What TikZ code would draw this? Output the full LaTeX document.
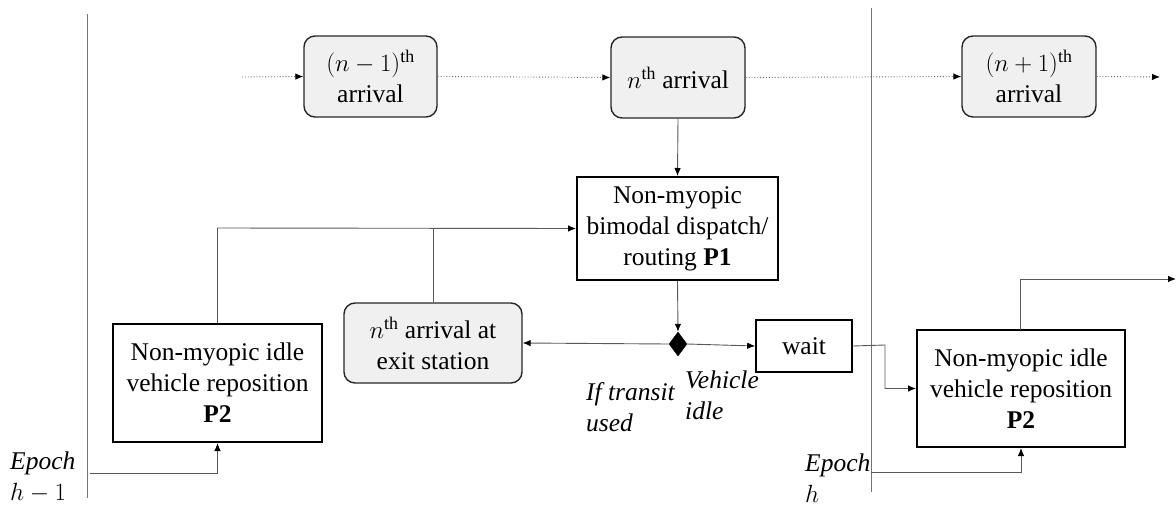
\documentclass[tikz,border=0pt]{standalone}
\usepackage{fontspec}
\setmainfont{Liberation Serif}
\usetikzlibrary{arrows.meta,shapes.geometric}
\begin{document}
\begin{tikzpicture}[x=1pt,y=-1pt,
  every node/.style={font=\fontsize{25.5}{31}\selectfont},
  arrbox/.style={draw=black!85,line width=1.4pt,fill=black!6,rounded corners=11pt,inner sep=0pt,align=center},
  probbox/.style={draw=black,line width=2pt,fill=white,inner sep=0pt,align=center},
  conn/.style={draw=black!65,line width=0.9pt},
  arr/.style={conn,-{Latex[length=8pt,width=6.5pt,color=black]}},
  dotarr/.style={draw=black!60,line width=0.9pt,dotted,-{Latex[length=8pt,width=6.5pt,color=black]}},
  epochline/.style={draw=black!55,line width=0.9pt},
  lbl/.style={font=\fontsize{25.5}{31}\selectfont\itshape,inner sep=0pt,align=left}
]
\useasboundingbox (0,0) rectangle (1176,509);
% epoch lines
\draw[epochline] (87,14) -- (87,498);
\draw[epochline] (871,8) -- (871,492);
% arrival boxes
\node[arrbox,minimum width=133pt,minimum height=81pt] (a1) at (370.5,76.5) {$(n-1)$\textsuperscript{th}\\arrival};
\node[arrbox,minimum width=134pt,minimum height=81pt] (a2) at (678,77.5) {$n$\textsuperscript{th} arrival};
\node[arrbox,minimum width=134pt,minimum height=81pt] (a3) at (1029,76.5) {$(n+1)$\textsuperscript{th}\\arrival};
\coordinate (d0) at (242,77);
\coordinate (d4) at (1160,77);
\draw[dotarr] (d0) -- (a1.west);
\draw[dotarr] (a1.east) -- (a2.west);
\draw[dotarr] (a2.east) -- (a3.west);
\draw[dotarr] (a3.east) -- (d4);
% P1
\node[probbox,minimum width=201pt,minimum height=103pt] (p1) at (677.5,228.5) {Non-myopic\\bimodal dispatch/\\routing \textbf{P1}};
% P2 left and right
\node[probbox,minimum width=209pt,minimum height=118pt] (p2l) at (217.5,383) {Non-myopic idle\\vehicle reposition\\\textbf{P2}};
\node[probbox,minimum width=208pt,minimum height=117pt] (p2r) at (1021,388.5) {Non-myopic idle\\vehicle reposition\\\textbf{P2}};
% exit
\node[arrbox,minimum width=178pt,minimum height=80pt] (ex) at (433,343) {$n$\textsuperscript{th} arrival at\\exit station};
% wait
\node[probbox,line width=1.6pt,minimum width=96pt,minimum height=52pt] (wt) at (804,346) {wait};
% diamond
\node[diamond,fill=black,draw=black,inner sep=0pt,minimum width=18pt,minimum height=24pt] (dm) at (678,344) {};
% connectors
\draw[arr] (a2.south) -- (p1.north);
\draw[arr] (p1.south) -- (dm.north);
\draw[arr] (dm.west) -- (ex.east);
\draw[arr] (dm.east) -- (wt.west);
\draw[arr] (wt.east) -- (885,345) -- (885,388.5) -- (p2r.west);
\draw[arr] (p2l.north) -- (217.5,228) -- (p1.west);
\draw[conn] (ex.north) -- (433,228);
\coordinate (e1) at (90,473);
\coordinate (e2) at (871,472);
\draw[arr] (e1) -- (217.5,473) -- (p2l.south);
\draw[arr] (e2) -- (1021,472) -- (p2r.south);
\coordinate (out) at (1176,279);
\draw[arr] (1020,330) -- (1020,279) -- (out);
% labels
\node[lbl,anchor=north west] (ep1) at (10,452) {Epoch\\\upshape$h-1$};
\node[lbl,anchor=north west] (ep2) at (805,454) {Epoch\\\upshape$h$};
\node[lbl,anchor=north west] (ift) at (586,382) {If transit\\used};
\node[lbl,anchor=north west] (vid) at (685,371) {Vehicle\\idle};
\end{tikzpicture}
\end{document}
